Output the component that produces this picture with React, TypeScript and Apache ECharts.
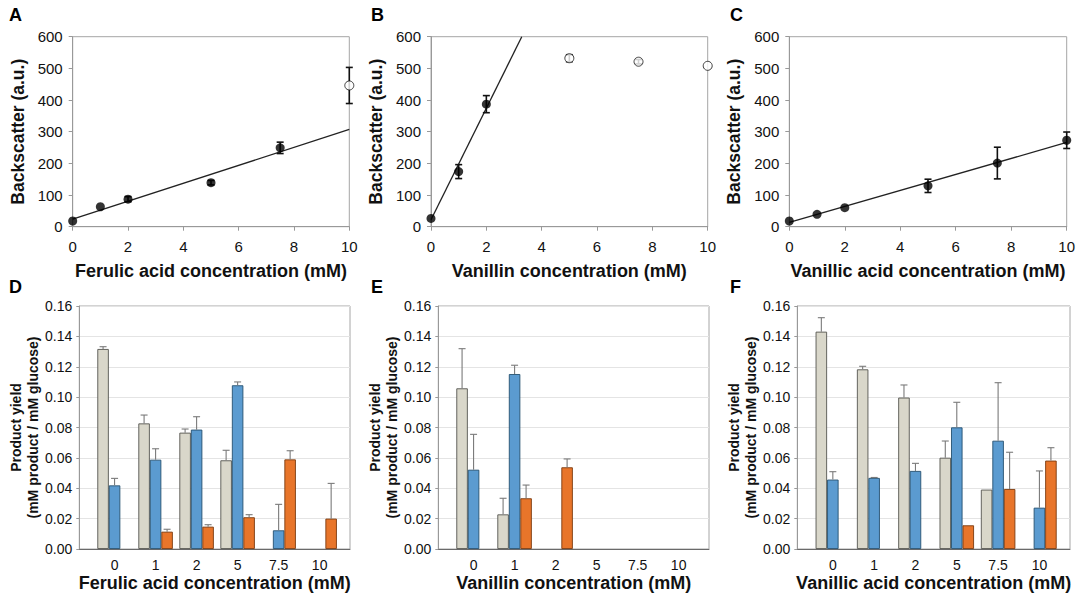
import React, { useEffect, useRef } from "react";
import * as echarts from "echarts";

// ---------- Data ----------
const backscatterConc = [0, 1, 2, 5, 7.5, 10];

const ferulicBackscatter = [18, 63, 87, 139, 249, 446];
const ferulicBackscatterErr = [0, 0, 8, 7, 18, 57];
const ferulicOpen = [false, false, false, false, false, true];
const ferulicFit = [[0, 24], [10, 307]];

const vanillinBackscatter = [26, 174, 387, 532, 521, 508];
const vanillinBackscatterErr = [0, 22, 27, 11, 7, 0];
const vanillinOpen = [false, false, false, true, true, true];
const vanillinFit = [[0, 22], [3.28, 600]];

const vanillicBackscatter = [18, 39, 60, 129, 201, 273];
const vanillicBackscatterErr = [0, 0, 0, 21, 50, 26];
const vanillicOpen = [false, false, false, false, false, false];
const vanillicFit = [[0, 14], [10, 266]];

const concCategories = ["0", "1", "2", "5", "7.5", "10"];

// D: ferulic acid
const ferulicGrey = [0.1317, 0.0827, 0.0766, 0.0584, null, null];
const ferulicGreyErr = [0.0015, 0.0055, 0.0024, 0.0066, null, null];
const ferulicBlue = [0.0419, 0.0588, 0.0786, 0.1078, 0.0123, null];
const ferulicBlueErr = [0.0046, 0.0072, 0.0085, 0.0022, 0.0171, null];
const ferulicOrange = [null, 0.0114, 0.0147, 0.0209, 0.059, 0.02];
const ferulicOrangeErr = [null, 0.0016, 0.0013, 0.0017, 0.0057, 0.0232];

// E: vanillin
const vanillinGrey = [0.1058, 0.0228, null, null, null, null];
const vanillinGreyErr = [0.0261, 0.0106, null, null, null, null];
const vanillinBlue = [0.0522, 0.1152, null, null, null, null];
const vanillinBlueErr = [0.0233, 0.0058, null, null, null, null];
const vanillinOrange = [null, 0.0334, 0.0538, null, null, null];
const vanillinOrangeErr = [null, 0.0087, 0.0055, null, null, null];

// F: vanillic acid
const vanillicGrey = [0.1431, 0.1183, 0.0997, 0.0601, 0.0391, null];
const vanillicGreyErr = [0.0092, 0.002, 0.0083, 0.011, 0, null];
const vanillicBlue = [0.0457, 0.0468, 0.0514, 0.0801, 0.0713, 0.0272];
const vanillicBlueErr = [0.0052, 0.0003, 0.005, 0.0165, 0.0382, 0.0242];
const vanillicOrange = [null, null, null, 0.0156, 0.0395, 0.0582];
const vanillicOrangeErr = [null, null, null, 0, 0.0242, 0.0085];

// ---------- Styling ----------
const FONT = '"Liberation Sans", Arial, Helvetica, sans-serif';
const TEXT = "#111";
const FRAME = "#a6a6a6";
const BAR_W = 11.5;
const BAR_COLORS = ["#d9d7ca", "#5b9bd0", "#e8752a"];
const BAR_BORDERS = ["#55554f", "#25506f", "#7a3a0e"];

const topGrids = [
  { left: 72.7, top: 36.7, width: 276.6, height: 190 },
  { left: 431, top: 36.7, width: 276.7, height: 190 },
  { left: 789.3, top: 36.7, width: 277.4, height: 190 },
];
const bottomGrids = [
  { left: 79.3, top: 306, width: 270.7, height: 243 },
  { left: 438.3, top: 306, width: 270.7, height: 243 },
  { left: 797.3, top: 306, width: 272.7, height: 243 },
];

function buildOption() {
  const grid: any[] = [];
  const xAxis: any[] = [];
  const yAxis: any[] = [];
  const series: any[] = [];

  const topPanels = [
    { vals: ferulicBackscatter, errs: ferulicBackscatterErr, open: ferulicOpen, fit: ferulicFit, name: "Ferulic acid concentration (mM)" },
    { vals: vanillinBackscatter, errs: vanillinBackscatterErr, open: vanillinOpen, fit: vanillinFit, name: "Vanillin concentration (mM)" },
    { vals: vanillicBackscatter, errs: vanillicBackscatterErr, open: vanillicOpen, fit: vanillicFit, name: "Vanillic acid concentration (mM)" },
  ];

  topPanels.forEach((p, i) => {
    grid.push({ ...topGrids[i], show: true, borderColor: FRAME, borderWidth: 1, backgroundColor: "transparent" });
    xAxis.push({
      gridIndex: i, type: "value", min: 0, max: 10, interval: 2,
      axisLine: { onZero: false, lineStyle: { color: "#999", width: 1 } },
      axisTick: { show: true, length: 4, lineStyle: { color: "#999" } },
      axisLabel: { fontSize: 15, color: TEXT, margin: 12, fontFamily: FONT },
      splitLine: { show: false },
      name: p.name, nameLocation: "middle", nameGap: 35,
      nameTextStyle: { fontSize: 18, fontWeight: "bold", color: TEXT, fontFamily: FONT },
    });
    yAxis.push({
      gridIndex: i, type: "value", min: 0, max: 600, interval: 100,
      axisLine: { show: true, onZero: false, lineStyle: { color: "#999", width: 1 } },
      axisTick: { show: true, length: 4, lineStyle: { color: "#999" } },
      axisLabel: { fontSize: 15, color: TEXT, margin: 10, fontFamily: FONT },
      splitLine: { show: false },
      name: "Backscatter (a.u.)", nameLocation: "middle", nameGap: 46, nameRotate: 90,
      nameTextStyle: { fontSize: 17.5, fontWeight: "bold", color: TEXT, fontFamily: FONT },
    });
    series.push({
      type: "line", xAxisIndex: i, yAxisIndex: i, data: p.fit, symbol: "none",
      lineStyle: { color: "#222", width: 1.3 }, silent: true, z: 2, clip: true,
    });
    const errData = backscatterConc
      .map((x, k) => [x, p.vals[k], p.vals[k] - p.errs[k], p.vals[k] + p.errs[k], p.errs[k]])
      .filter((d) => d[4] > 0);
    series.push({
      type: "custom", xAxisIndex: i, yAxisIndex: i, coordinateSystem: "cartesian2d", z: 3,
      data: errData, silent: true,
      renderItem: (params: any, api: any) => {
        const x = api.value(0);
        const lo = api.coord([x, api.value(2)]);
        const hi = api.coord([x, api.value(3)]);
        const st = { stroke: "#111", lineWidth: 1.6 };
        return {
          type: "group",
          children: [
            { type: "line", shape: { x1: lo[0], y1: lo[1], x2: hi[0], y2: hi[1] }, style: st },
            { type: "line", shape: { x1: hi[0] - 3.5, y1: hi[1], x2: hi[0] + 3.5, y2: hi[1] }, style: st },
            { type: "line", shape: { x1: lo[0] - 3.5, y1: lo[1], x2: lo[0] + 3.5, y2: lo[1] }, style: st },
          ],
        };
      },
    });
    series.push({
      type: "scatter", xAxisIndex: i, yAxisIndex: i, symbol: "circle", symbolSize: 9, z: 5,
      data: backscatterConc.map((x, k) => [x, p.vals[k]]).filter((_, k) => !p.open[k]),
      itemStyle: { color: "#000" },
    });
    series.push({
      type: "scatter", xAxisIndex: i, yAxisIndex: i, symbol: "circle", symbolSize: 9, z: 5,
      data: backscatterConc.map((x, k) => [x, p.vals[k]]).filter((_, k) => p.open[k]),
      itemStyle: { color: "#fff", borderColor: "#111", borderWidth: 1 },
    });
  });

  const bottomPanels = [
    { bars: [ferulicGrey, ferulicBlue, ferulicOrange], errs: [ferulicGreyErr, ferulicBlueErr, ferulicOrangeErr], name: "Ferulic acid concentration (mM)" },
    { bars: [vanillinGrey, vanillinBlue, vanillinOrange], errs: [vanillinGreyErr, vanillinBlueErr, vanillinOrangeErr], name: "Vanillin concentration (mM)" },
    { bars: [vanillicGrey, vanillicBlue, vanillicOrange], errs: [vanillicGreyErr, vanillicBlueErr, vanillicOrangeErr], name: "Vanillic acid concentration (mM)" },
  ];

  bottomPanels.forEach((p, j) => {
    const i = j + 3;
    grid.push({ ...bottomGrids[j], show: true, borderColor: FRAME, borderWidth: 1, backgroundColor: "transparent" });
    xAxis.push({
      gridIndex: i, type: "value", min: -0.86, max: 5.74,
      axisLine: { onZero: false, lineStyle: { color: "#6a6a6a", width: 1 } },
      axisTick: { show: false },
      axisLabel: {
        fontSize: 14, color: TEXT, margin: 9, fontFamily: FONT,
        customValues: concCategories.map((_, k) => k),
        formatter: (v: number) => concCategories[Math.round(v)] ?? "",
      },
      splitLine: { show: false },
      name: p.name, nameLocation: "middle", nameGap: 25,
      nameTextStyle: { fontSize: 18, fontWeight: "bold", color: TEXT, fontFamily: FONT },
    });
    yAxis.push({
      gridIndex: i, type: "value", min: 0, max: 0.16, interval: 0.02,
      axisLine: { show: true, onZero: false, lineStyle: { color: "#999", width: 1 } },
      axisTick: { show: true, length: 3, lineStyle: { color: "#999" } },
      axisLabel: { fontSize: 14, color: TEXT, margin: 7, fontFamily: FONT, formatter: (v: number) => v.toFixed(2) },
      splitLine: { show: true, lineStyle: { color: "#e4e4e4", width: 1 } },
      name: "Product yield\n(mM product / mM glucose)", nameLocation: "middle", nameGap: 35, nameRotate: 90,
      nameTextStyle: { fontSize: 14, fontWeight: "bold", color: TEXT, fontFamily: FONT, lineHeight: 17 },
    });
    p.bars.forEach((vals, s) => {
      series.push({
        type: "bar", xAxisIndex: i, yAxisIndex: i, barWidth: BAR_W, barGap: "0%", z: 2,
        data: vals.map((v, k) => (v == null ? [k, "-"] : [k, v])),
        itemStyle: { color: BAR_COLORS[s], borderColor: BAR_BORDERS[s], borderWidth: 0.9 },
        silent: true,
      });
    });
    p.bars.forEach((vals, s) => {
      const offset = (s - 1) * BAR_W;
      const errData = vals
        .map((v, k) => [k, v, p.errs[s][k]])
        .filter((d) => d[1] != null && d[2] != null && (d[2] as number) > 0.0001);
      series.push({
        type: "custom", xAxisIndex: i, yAxisIndex: i, coordinateSystem: "cartesian2d", z: 3,
        data: errData, silent: true,
        renderItem: (params: any, api: any) => {
          const x = api.value(0);
          const v = api.value(1);
          const e = api.value(2);
          const base = api.coord([x, v]);
          const top = api.coord([x, v + e]);
          const cx = base[0] + offset;
          const st = { stroke: "#7a7a7a", lineWidth: 1.1 };
          return {
            type: "group",
            children: [
              { type: "line", shape: { x1: cx, y1: base[1], x2: cx, y2: top[1] }, style: st },
              { type: "line", shape: { x1: cx - 3.5, y1: top[1], x2: cx + 3.5, y2: top[1] }, style: st },
            ],
          };
        },
      });
    });
  });

  const letterStyle = { fontSize: 18, fontWeight: "bold", color: "#000", fontFamily: FONT };
  const title = [
    { text: "A", left: 9, top: 6 },
    { text: "B", left: 371, top: 6 },
    { text: "C", left: 730, top: 6 },
    { text: "D", left: 9, top: 278 },
    { text: "E", left: 371, top: 278 },
    { text: "F", left: 730, top: 278 },
  ].map((t) => ({ ...t, padding: 0, textStyle: letterStyle }));

  return {
    animation: false,
    backgroundColor: "#fff",
    textStyle: { fontFamily: FONT },
    title,
    grid,
    xAxis,
    yAxis,
    series,
  };
}

export default function App() {
  const ref = useRef<HTMLDivElement>(null);
  useEffect(() => {
    if (!ref.current) return;
    const chart = echarts.init(ref.current, undefined, { renderer: "svg" });
    chart.setOption(buildOption() as any);
    return () => chart.dispose();
  }, []);
  return (
    <div
      ref={ref}
      style={{ position: "fixed", left: 0, top: 0, width: 1084, height: 596, background: "#fff" }}
    />
  );
}
